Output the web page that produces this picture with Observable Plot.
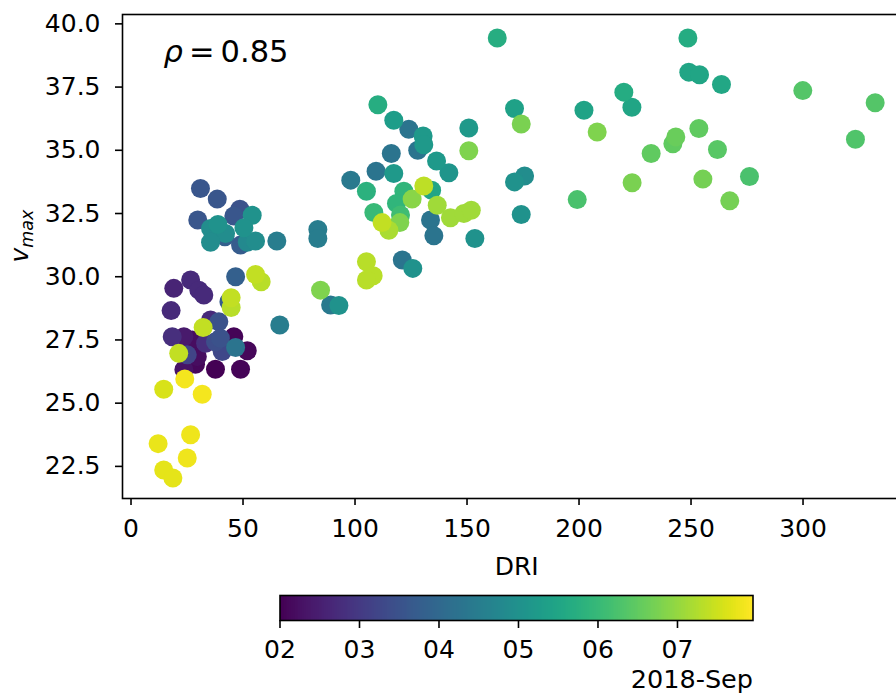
<!DOCTYPE html>
<html>
<head>
<meta charset="utf-8">
<script src="https://cdn.jsdelivr.net/npm/d3@7"></script>
<script src="https://cdn.jsdelivr.net/npm/@observablehq/plot@0.6"></script>
<style>
  html, body { margin: 0; padding: 0; background: white; overflow: hidden; }
  #wrap { width: 896px; height: 696px; overflow: hidden; }
  #wrap svg { display: block; }
</style>
</head>
<body>
<div id="wrap"></div>
<script>
// DRI values (x)
const dri = [
  163.5,110.2,117.3,124.0,130.4,130.7,128.0,116.2,150.8,171.2,
  174.2,202.2,208.1,220.0,223.6,232.2,223.7,199.2,150.8,136.4,
  141.9,109.4,117.3,105.1,171.2,175.7,174.2,121.8,130.7,134.2,
  118.5,125.5,136.7,133.7,135.2,108.4,120.3,120.0,112.1,115.1,
  142.6,148.6,151.9,153.5,121.1,125.8,105.1,108.1,105.1,98.1,
  83.4,83.4,65.1,
  31.0,38.5,29.8,48.6,45.9,54.1,38.8,35.5,42.2,50.4,
  35.5,41.9,48.9,51.9,55.6,55.6,58.1,46.7,19.1,26.6,
  30.3,32.5,17.9,43.7,44.7,44.7,66.4,84.6,89.1,92.8,
  32.2,35.5,39.2,18.4,23.6,27.3,33.3,37.7,39.9,45.9,
  46.7,51.9,40.7,21.3,25.1,29.6,28.8,23.6,37.7,48.9,
  24.0,14.6,31.8,26.6,12.1,25.1,14.6,18.7,
  248.6,249.0,253.8,263.6,299.9,332.2,323.4,253.5,243.2,241.9,
  261.8,255.3,276.1,267.3
];
// v_max values (y)
const vmax = [
  39.44,36.80,36.19,35.83,35.57,35.22,35.00,34.87,35.88,36.65,
  36.04,36.58,35.72,37.30,36.70,34.87,33.72,33.05,34.98,34.58,
  34.11,34.17,34.08,33.38,33.75,33.98,32.46,33.38,33.59,33.42,
  32.90,33.07,32.83,32.24,31.62,32.54,32.44,32.14,32.14,31.84,
  32.33,32.50,32.63,31.51,30.66,30.33,30.59,30.04,29.87,33.82,
  31.87,31.51,31.41,
  33.49,33.07,32.24,32.67,32.40,32.43,32.07,31.91,31.71,31.94,
  31.36,31.58,31.25,31.36,31.41,30.09,29.80,30.00,29.54,29.87,
  29.47,29.28,28.66,29.01,29.17,28.78,28.09,29.47,28.88,28.86,
  27.99,28.29,28.22,27.63,27.63,27.50,27.37,27.43,27.57,27.63,
  27.20,27.07,27.04,26.97,26.91,26.84,26.54,26.32,26.34,26.34,
  25.96,25.55,25.35,23.75,23.40,22.83,22.36,22.04,
  39.44,38.09,37.99,37.60,37.36,36.88,35.44,35.86,35.53,35.26,
  35.03,33.86,33.96,33.00
];
// date as day of September 2018 (fractional)
const dayOfSep = [
  5.70,5.70,5.30,4.30,5.20,5.20,4.30,4.30,5.20,5.40,
  6.75,5.45,6.80,5.65,5.50,6.50,6.75,6.25,6.80,5.20,
  5.10,4.30,5.20,5.80,5.00,4.90,5.00,5.90,7.35,5.50,
  5.90,6.90,7.10,4.30,4.30,6.00,6.10,6.80,7.40,7.20,
  7.10,7.10,7.10,5.00,4.30,5.00,7.30,7.30,7.30,4.40,
  4.50,4.50,4.50,
  3.60,3.60,3.60,3.50,3.60,5.00,5.00,4.90,4.90,5.00,
  4.90,3.80,3.70,4.80,4.90,7.40,7.30,3.80,2.60,2.70,
  2.70,2.70,2.70,3.70,7.40,7.30,4.50,6.80,4.40,5.00,
  7.40,2.70,3.50,2.80,2.40,2.20,2.80,3.40,3.50,2.05,
  4.30,2.10,3.30,7.40,3.20,2.20,2.10,2.30,2.00,2.05,
  7.85,7.60,7.85,7.80,7.75,7.80,7.70,7.70,
  5.65,5.50,5.50,5.55,6.35,6.35,6.30,6.50,6.60,6.50,
  6.40,6.70,6.25,6.70
];
const xTicks = [0, 50, 100, 150, 200, 250, 300];
const yTicks = [22.5, 25.0, 27.5, 30.0, 32.5, 35.0, 37.5, 40.0];
const cbTicks = [2, 3, 4, 5, 6, 7];
const cbTickLabels = ["02", "03", "04", "05", "06", "07"];
const cbDomain = [2, 7.95];
const cbUnitLabel = "2018-Sep";
const rhoLabel = "ρ = 0.85";

const rows = dri.map((d, i) => ({dri: d, vmax: vmax[i], day: dayOfSep[i]}))
  .sort((a, b) => a.day - b.day);

const font = "DejaVu Sans";
const fs = 25;
const colorOpt = {type: "linear", scheme: "viridis", domain: cbDomain};

const chart = Plot.plot({
  width: 896, height: 580,
  marginLeft: 122, marginRight: -14.5, marginTop: 14, marginBottom: 82,
  style: {fontFamily: font, fontSize: fs + "px", color: "black", background: "white", overflow: "visible"},
  x: {domain: [-3.8, 348.2]},
  y: {domain: [21.23, 40.37]},
  color: colorOpt,
  marks: [
    Plot.dot(rows, {x: "dri", y: "vmax", fill: "day", r: 9.5, stroke: null}),
    Plot.frame({stroke: "black", strokeWidth: 1.6}),
    Plot.axisX({ticks: xTicks, tickSize: 7, tickPadding: 14, strokeWidth: 1.6, fontSize: fs, tickFormat: d => String(d), label: null}),
    Plot.axisY({ticks: yTicks, tickSize: 7, tickPadding: 15, strokeWidth: 1.6, fontSize: fs, tickFormat: d => d.toFixed(1), label: null}),
    Plot.text(["DRI"], {frameAnchor: "bottom", dy: 68, fontSize: fs, lineAnchor: "middle"}),
    Plot.text(["v_max"], {frameAnchor: "left", dx: -103, dy: 6, rotate: -90, fontSize: fs, lineAnchor: "middle"}),
    Plot.text([rhoLabel], {frameAnchor: "top-left", dx: 41, dy: 38, fontSize: 30.5, textAnchor: "start", lineAnchor: "middle"})
  ]
});

const cbar = Plot.plot({
  width: 896, height: 116,
  marginLeft: 279.5, marginRight: 143.5, marginTop: 15, marginBottom: 76,
  style: {fontFamily: font, fontSize: fs + "px", color: "black", background: "white"},
  x: {domain: cbDomain},
  y: {domain: [0, 1], axis: null},
  color: colorOpt,
  marks: [
    Plot.raster({x1: cbDomain[0], x2: cbDomain[1], y1: 0, y2: 1, width: 473, height: 1, fill: (x, y) => x, imageRendering: "auto"}),
    Plot.frame({stroke: "black", strokeWidth: 1.6}),
    Plot.axisX({ticks: cbTicks, tickSize: 8, tickPadding: 12, strokeWidth: 1.6, fontSize: fs, tickFormat: d => cbTickLabels[cbTicks.indexOf(d)], label: null}),
    Plot.text([cbUnitLabel], {frameAnchor: "bottom-right", dy: 59, fontSize: 25.5, textAnchor: "end", lineAnchor: "middle"})
  ]
});

const wrap = document.getElementById("wrap");
wrap.appendChild(chart);
wrap.appendChild(cbar);

// rich text: italic v with subscript, italic rho
const ns = "http://www.w3.org/2000/svg";
for (const t of chart.querySelectorAll("text")) {
  if (t.textContent === "v_max") {
    t.textContent = "";
    const a = document.createElementNS(ns, "tspan");
    a.setAttribute("font-style", "italic");
    a.textContent = "v";
    const b = document.createElementNS(ns, "tspan");
    b.setAttribute("font-style", "italic");
    b.setAttribute("font-size", "17.5px");
    b.setAttribute("dy", "5");
    b.textContent = "max";
    t.appendChild(a); t.appendChild(b);
  } else if (t.textContent === rhoLabel) {
    t.textContent = "";
    const a = document.createElementNS(ns, "tspan");
    a.setAttribute("font-style", "italic");
    a.textContent = "ρ";
    const b = document.createElementNS(ns, "tspan");
    b.textContent = "\u2009=\u20090.85";
    t.appendChild(a); t.appendChild(b);
  }
}
</script>
</body>
</html>
